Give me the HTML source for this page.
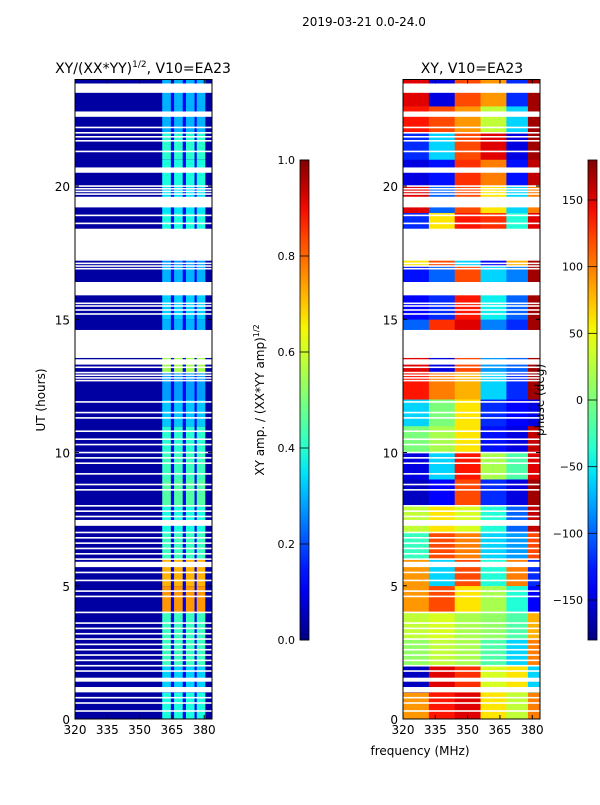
<!DOCTYPE html>
<html><head><meta charset="utf-8">
<style>
html,body{margin:0;padding:0;background:#fff;}
svg text{font-family:"DejaVu Sans","Liberation Sans",sans-serif;fill:#000;}
</style></head>
<body>
<svg id="fig" width="600" height="800" viewBox="0 0 600 800" xmlns="http://www.w3.org/2000/svg">
<rect width="600" height="800" fill="#fff"/>
<text x="364" y="26" font-size="12" text-anchor="middle">2019-03-21 0.0-24.0</text>
<text x="143" y="73" font-size="14" text-anchor="middle">XY/(XX*YY)<tspan font-size="9" dy="-6">1/2</tspan><tspan dy="6">, V10=EA23</tspan></text>
<text x="472" y="73" font-size="14" text-anchor="middle">XY, V10=EA23</text>
<g id="ampPanel"></g>
<g id="phPanel"></g>
<g id="axes"></g>
<text transform="translate(45,400) rotate(-90)" font-size="12" text-anchor="middle">UT (hours)</text>
<text x="420" y="755" font-size="12" text-anchor="middle">frequency (MHz)</text>
<text transform="translate(264,400) rotate(-90)" font-size="12" text-anchor="middle">XY amp. / (XX*YY amp)<tspan font-size="8" dy="-5">1/2</tspan></text>
<text transform="translate(544,400) rotate(-90)" font-size="12" text-anchor="middle">phase (deg)</text>
<defs><linearGradient id="jet" x1="0" y1="1" x2="0" y2="0"></linearGradient></defs>
</svg>
<script>
// ---- data ----
const hours = [0,1,2,3,4,5,6,7,8,9,10,11,12,13,14,15,16,17,18,19,20,21,22,23];
const bandLevel = [0.38,0.33,0.42,0.42,0.75,0.72,0.42,0.38,0.45,0.42,0.4,0.32,0.28,0.55,0.3,0.33,0.3,0.28,0.38,0.35,0.38,0.4,0.3,0.3];
const bandEdges = [[360.5,364.5],[366,370],[371.5,375.5],[376.5,380.5]];
const gapLevel = 0.12;
const baseLevel = 0.03;
const phaseCols = [[320,332],[332,344],[344,356],[356,368],[368,378],[378,383.6]];
const phase = [
 [90,140,150,60,30,100],
 [-160,150,130,40,60,-60],
 [10,30,20,-20,-60,100],
 [30,40,20,10,-20,80],
 [90,120,60,20,-40,-140],
 [90,-60,120,-40,100,-120],
 [-30,120,100,-60,-80,120],
 [30,60,40,-40,-100,160],
 [-160,-140,120,-120,-150,170],
 [-150,-60,140,20,-20,150],
 [0,20,60,-130,-150,160],
 [-60,0,60,-120,-140,-150],
 [140,100,80,-60,-120,170],
 [150,-150,120,-80,-100,170],
 [-100,130,150,-90,-120,170],
 [-140,-120,140,-50,-100,170],
 [-130,-100,120,-60,-90,170],
 [60,120,-60,-140,80,170],
 [-120,60,140,130,-40,150],
 [150,-100,120,60,-60,100],
 [-150,-130,130,100,-130,160],
 [-120,-60,120,150,-150,170],
 [140,120,90,30,-60,170],
 [150,-150,120,90,-120,170]
];
const flags = [[23.5,23.85],[22.6,22.8],[20.5,20.7],[19.2,19.6],[17.2,18.4],[15.9,16.4],[13.55,14.6],[13.3,13.5],[7.25,7.47],[5.7,5.9],[1.4,1.55],[1.0,1.2]];
const thinFlags = [22.2,22.0,21.85,21.7,21.3,20.0,19.9,19.8,19.7,18.9,18.6,17.1,17.0,16.9,15.6,15.5,15.35,15.2,13.2,13.0,12.9,12.8,12.7,11.9,11.5,11.3,10.8,10.5,10.3,10.0,9.8,9.6,9.2,8.8,8.6,8.0,7.8,7.6,7.0,6.8,6.6,6.4,6.2,6.0,5.5,5.2,4.8,4.6,4.0,3.6,3.4,3.2,3.0,2.8,2.6,2.4,2.2,2.0,1.8,0.8,0.6,0.3];
const yTicks = [0,5,10,15,20];
const xTicks = [320,335,350,365,380];
const ampTicks = [0.0,0.2,0.4,0.6,0.8,1.0];
const phTicks = [-150,-100,-50,0,50,100,150];

// ---- helpers ----
const NS="http://www.w3.org/2000/svg";
const svg=document.getElementById('fig');
function jet(v){v=Math.max(0,Math.min(1,v));
 function seg(pts){for(let i=1;i<pts.length;i++){if(v<=pts[i][0]){const a=pts[i-1],b=pts[i];return a[1]+(b[1]-a[1])*(v-a[0])/(b[0]-a[0]);}}return pts[pts.length-1][1];}
 const r=seg([[0,0],[0.35,0],[0.66,1],[0.89,1],[1,0.5]]);
 const g=seg([[0,0],[0.125,0],[0.375,1],[0.64,1],[0.91,0],[1,0]]);
 const b=seg([[0,0.5],[0.11,1],[0.34,1],[0.65,0],[1,0]]);
 return `rgb(${Math.round(r*255)},${Math.round(g*255)},${Math.round(b*255)})`;}
function mk(tag,attrs,parent){const e=document.createElementNS(NS,tag);for(const k in attrs)e.setAttribute(k,attrs[k]);parent.appendChild(e);return e;}
const Y0=719, Y1=79.5, TMAX=24;
function yS(h){return Y0-(Y0-Y1)*h/TMAX;}
const FMIN=320, FMAX=383.6, PW=137;
function xS(left,f){return left+PW*(f-FMIN)/(FMAX-FMIN);}
const LA=75, LP=403;

// ---- amplitude panel ----
const ag=document.getElementById('ampPanel');
hours.forEach((h,i)=>{
 const y=yS(h+1), hh=yS(h)-yS(h+1);
 const bg=mk('rect',{x:LA,y:y,width:PW,height:hh+0.3,fill:jet(baseLevel)},ag);
 
 
 const gx0=xS(LA,bandEdges[0][0]), gx1=xS(LA,bandEdges[bandEdges.length-1][1]);
 const gap=mk('rect',{x:gx0,y:y,width:gx1-gx0,height:hh+0.3,fill:jet(gapLevel)},ag);
 
 
 bandEdges.forEach((be,j)=>{
  const x0=xS(LA,be[0]),x1=xS(LA,be[1]);
  const c=mk('rect',{x:x0,y:y,width:x1-x0,height:hh+0.3,fill:jet(bandLevel[i])},ag);
  
  
 });
});
// ---- phase panel ----
const pg=document.getElementById('phPanel');
hours.forEach((h,i)=>{
 const y=yS(h+1), hh=yS(h)-yS(h+1);
 phaseCols.forEach((pc,j)=>{
  const x0=xS(LP,pc[0]),x1=xS(LP,pc[1]);
  const c=mk('rect',{x:x0,y:y,width:x1-x0+0.3,height:hh+0.3,fill:jet((phase[i][j]+180)/360)},pg);
  
  
 });
});
// ---- flags ----
[LA,LP].forEach(L=>{
 flags.forEach(f=>{
  const r=mk('rect',{x:L,y:yS(f[1]),width:PW,height:yS(f[0])-yS(f[1]),fill:'#fff'},svg);
  
  
 });
 thinFlags.forEach(t=>{
  const r=mk('rect',{x:L,y:yS(t)-0.8,width:PW,height:1.6,fill:'#fff'},svg);
  
  
 });
});
// ---- axes ----
const ax=document.getElementById('axes');
svg.appendChild(ax);
[LA,LP].forEach((L,pi)=>{
 const fr=mk('rect',{x:L,y:Y1,width:PW,height:Y0-Y1,fill:'none',stroke:'#000','stroke-width':1},ax);
 
 
 yTicks.forEach(t=>{
  const y=yS(t);
  mk('line',{x1:L,y1:y,x2:L+4,y2:y,stroke:'#000'},ax);
  mk('line',{x1:L+PW,y1:y,x2:L+PW-4,y2:y,stroke:'#000'},ax);
  const tx=mk('text',{x:L-5,y:y+5,'font-size':12,'text-anchor':'end'},ax);
  tx.textContent=t;
  
  
 });
 xTicks.forEach(t=>{
  const x=xS(L,t);
  mk('line',{x1:x,y1:Y0,x2:x,y2:Y0-4,stroke:'#000'},ax);
  mk('line',{x1:x,y1:Y1,x2:x,y2:Y1+4,stroke:'#000'},ax);
  const tx=mk('text',{x:x,y:Y0+15,'font-size':12,'text-anchor':'middle'},ax);
  tx.textContent=t;
  
  
 });
});
// ---- colorbars ----
const grad=svg.querySelector('#jet');
for(let k=0;k<=20;k++){mk('stop',{offset:(k/20),'stop-color':jet(k/20)},grad);}
function colorbar(x,ticks,vmin,vmax,name,fmt){
 const top=160,bot=640;
 const r=mk('rect',{x:x,y:top,width:9,height:bot-top,fill:'url(#jet)',stroke:'#000','stroke-width':0.8},svg);
 
 
 ticks.forEach(t=>{
  const y=bot-(bot-top)*(t-vmin)/(vmax-vmin);
  mk('line',{x1:x,y1:y,x2:x+9,y2:y,stroke:'#000','stroke-width':0.8},svg);
  const tx=mk('text',{x:x-5,y:y+4,'font-size':11,'text-anchor':'end'},svg);
  tx.textContent=fmt(t);
  
  
 });
}
colorbar(300,ampTicks,0,1,'amp-colorbar',t=>t.toFixed(1));
colorbar(588,phTicks,-180,180,'phase-colorbar',t=>t<0?'\u2212'+(-t):''+t);
</script>
</body></html>
